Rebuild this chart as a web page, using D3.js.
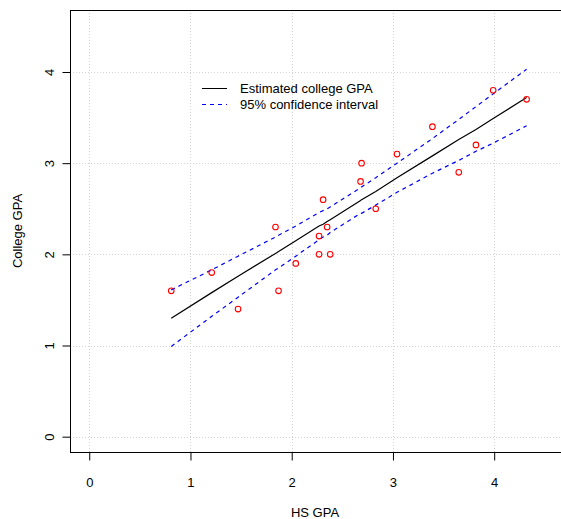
<!DOCTYPE html>
<html>
<head>
<meta charset="utf-8">
<script src="https://cdn.jsdelivr.net/npm/d3@7"></script>
<style>
  body { margin: 0; background: #fff; }
  text { font-family: 'Liberation Sans', Arial, sans-serif; font-size: 13px; fill: #000; }
</style>
</head>
<body>
<svg id="chart" width="561" height="519"></svg>
<script>
// HS GPA (sorted) and observed college GPA
let hsGpa      = [0.81, 1.21, 1.47, 1.84, 1.87, 2.04, 2.27, 2.27, 2.31, 2.35, 2.38, 2.68, 2.69, 2.83, 3.04, 3.39, 3.65, 3.82, 3.99, 4.32]
let collegeGpa = [1.6, 1.8, 1.4, 2.3, 1.6, 1.9, 2.2, 2.0, 2.6, 2.3, 2.0, 2.8, 3.0, 2.5, 3.1, 3.4, 2.9, 3.2, 3.8, 3.7]

// fitted line and 95% band at each HS GPA
let fitted = [1.30, 1.58, 1.76, 2.01, 2.03, 2.15, 2.31, 2.31, 2.33, 2.36, 2.38, 2.59, 2.60, 2.69, 2.84, 3.08, 3.26, 3.37, 3.49, 3.72]
let upper  = [1.61, 1.83, 1.98, 2.19, 2.21, 2.31, 2.46, 2.46, 2.48, 2.50, 2.52, 2.73, 2.74, 2.84, 3.00, 3.27, 3.48, 3.62, 3.76, 4.03]
let lower  = [0.99, 1.32, 1.53, 1.83, 1.85, 1.98, 2.16, 2.16, 2.19, 2.21, 2.24, 2.45, 2.45, 2.54, 2.68, 2.89, 3.03, 3.13, 3.22, 3.41]

let xTicks = [0, 1, 2, 3, 4]
let yTicks = [0, 1, 2, 3, 4]
let legendItems = [
  { label: 'Estimated college GPA', color: '#000', dash: null },
  { label: '95% confidence interval', color: '#0000ff', dash: '4,4' }
]

let svg = d3.select('#chart')

let plot = { left: 70, top: 10, right: 562, bottom: 452 }

let x = d3.scaleLinear()
  .domain([-0.19, 4.65])
  .range([70, 560])

let y = d3.scaleLinear()
  .domain([-0.168, 4.68])
  .range([452, 10])

//
// grid
//

svg.append('g')
  .selectAll('line')
  .data(xTicks)
  .enter().append('line')
    .attr('x1', d => Math.round(x(d)) + 0.5)
    .attr('x2', d => Math.round(x(d)) + 0.5)
    .attr('y1', plot.top)
    .attr('y2', plot.bottom)
    .attr('stroke', '#d3d3d3')
    .attr('stroke-dasharray', '1,2')

svg.append('g')
  .selectAll('line')
  .data(yTicks)
  .enter().append('line')
    .attr('x1', plot.left)
    .attr('x2', plot.right)
    .attr('y1', d => Math.round(y(d)) + 0.5)
    .attr('y2', d => Math.round(y(d)) + 0.5)
    .attr('stroke', '#d3d3d3')
    .attr('stroke-dasharray', '1,2')

//
// fit + band
//

let idx = d3.range(hsGpa.length)
let lineOf = (vals) => d3.line()
  .x(i => x(hsGpa[i]))
  .y(i => y(vals[i]))(idx)

svg.append('path')
  .attr('d', lineOf(fitted))
  .attr('fill', 'none')
  .attr('stroke', '#000')
  .attr('stroke-width', 1.2)

;[upper, lower].forEach(band => {
  svg.append('path')
    .attr('d', lineOf(band))
    .attr('fill', 'none')
    .attr('stroke', '#0000ff')
    .attr('stroke-width', 1.2)
    .attr('stroke-dasharray', '4,4')
})

svg.append('g')
  .selectAll('circle')
  .data(idx)
  .enter().append('circle')
    .attr('cx', i => x(hsGpa[i]))
    .attr('cy', i => y(collegeGpa[i]))
    .attr('r', 2.8)
    .attr('fill', 'none')
    .attr('stroke', '#ff0000')
    .attr('stroke-width', 1.1)

//
// box + axes
//

svg.append('rect')
  .attr('x', plot.left + 0.5)
  .attr('y', plot.top + 0.5)
  .attr('width', plot.right - plot.left)
  .attr('height', plot.bottom - plot.top)
  .attr('fill', 'none')
  .attr('stroke', '#000')

let xAxis = svg.append('g')
  .attr('transform', `translate(0,${plot.bottom + 0.5})`)
  .call(d3.axisBottom(x).tickValues(xTicks).tickSize(8).tickPadding(17).tickFormat(d3.format('d')))

let yAxis = svg.append('g')
  .attr('transform', `translate(${plot.left + 0.5},0)`)
  .call(d3.axisLeft(y).tickValues(yTicks).tickSize(8).tickFormat(d3.format('d')))

;[xAxis, yAxis].forEach(g => {
  g.select('.domain').remove()
  g.selectAll('.tick line').attr('stroke', '#000')
  g.selectAll('text')
    .attr('fill', '#000')
    .style('font-family', "'Liberation Sans', Arial, sans-serif")
    .style('font-size', '13px')
})

// R draws y tick labels parallel to the axis
yAxis.selectAll('.tick text')
  .attr('x', null)
  .attr('dy', null)
  .attr('text-anchor', 'middle')
  .attr('transform', 'translate(-17,0) rotate(-90)')

svg.append('text')
  .attr('x', (plot.left + 560) / 2)
  .attr('y', 517)
  .attr('text-anchor', 'middle')
  .text('HS GPA')

svg.append('text')
  .attr('transform', `translate(22,${(plot.top + plot.bottom) / 2}) rotate(-90)`)
  .attr('text-anchor', 'middle')
  .text('College GPA')

//
// legend
//

let legend = svg.append('g')
  .selectAll('g')
  .data(legendItems)
  .enter().append('g')
    .attr('transform', (d, i) => `translate(202,${88.5 + i * 16})`)

legend.append('line')
  .attr('x1', 0)
  .attr('x2', 25)
  .attr('stroke', d => d.color)
  .attr('stroke-dasharray', d => d.dash)

legend.append('text')
  .attr('x', 38)
  .attr('dy', '0.35em')
  .text(d => d.label)
</script>
</body>
</html>
